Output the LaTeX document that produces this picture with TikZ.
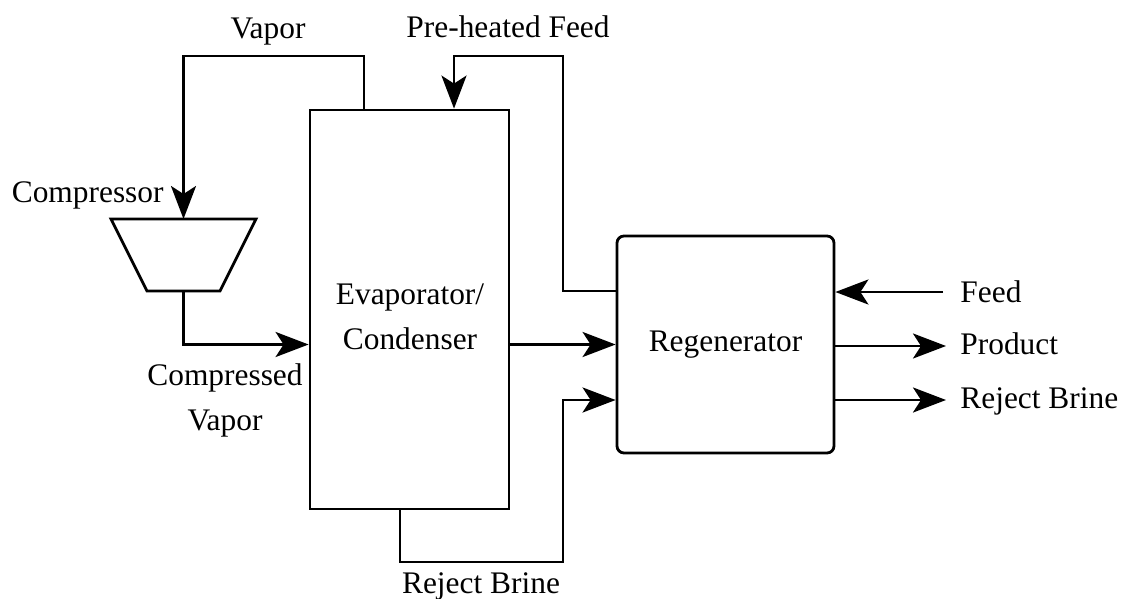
\documentclass[tikz,border=0pt]{standalone}
\usepackage{fontspec}
\setmainfont{Liberation Serif}
\usetikzlibrary{arrows.meta}
\begin{document}
\begin{tikzpicture}[x=1pt,y=-1pt,
  line width=2.8pt,
  every node/.style={font=\fontsize{31.4}{45}\selectfont, inner sep=0pt},
  flow/.style={-{Stealth[length=33pt,width=25pt,inset=8pt]}},
  unit/.style={draw, fill=white}]
\useasboundingbox (0,0) rectangle (1121,599);

% main units
\node[unit, minimum width=199pt, minimum height=399pt] (evap) at (409.5,309.5) {};
\node (levap) [align=center] at (410,317) {Evaporator/\\Condenser};
\node[unit, rounded corners=7pt, minimum width=217pt, minimum height=217pt] (regen) at (725.5,344.5) {Regenerator};

% compressor
\draw (111,219) -- (256,219) -- (220,291) -- (147,291) -- cycle;
\coordinate (comptop) at (183.5,219);
\coordinate (compbot) at (183.5,291);

% routing points
\coordinate (vtop) at (364,56);
\coordinate (pfA) at (563,291);
\coordinate (pfB) at (454,56);
\coordinate (rbA) at (400,562);
\coordinate (rbB) at (563,400);
\coordinate (feedin) at (943,292);
\coordinate (prodout) at (946,346);
\coordinate (rejout) at (946,400);

% streams
\draw[flow] (evap.north -| vtop) -- (vtop) -| (comptop);
\draw[flow] (compbot) |- (evap.west |- regen.west);
\draw[flow] (regen.west |- pfA) -- (pfA) |- (pfB) -- (evap.north -| pfB);
\draw[flow] (evap.east |- regen.west) -- (regen.west);
\draw[flow] (evap.south -| rbA) -- (rbA) -| (rbB) -- (regen.west |- rbB);
\draw[flow] (feedin) -- (regen.east |- feedin);
\draw[flow] (regen.east |- prodout) -- (prodout);
\draw[flow] (regen.east |- rejout) -- (rejout);

% stream labels
\node[anchor=base] (lvap) at (268,39) {Vapor};
\node[anchor=base] (lpf) at (508,38) {Pre-heated Feed};
\node[anchor=base east] (lcomp) at (165,202) {Compressor};
\node[align=center] (lcv) at (225,400) {Compressed\\Vapor};
\node[anchor=base] (lrb) at (481,593) {Reject Brine};
\node[anchor=base west] (lfeed) at (959,302) {Feed};
\node[anchor=base west] (lprod) at (959,354) {Product};
\node[anchor=base west] (lrej) at (959,408) {Reject Brine};
\end{tikzpicture}
\end{document}
